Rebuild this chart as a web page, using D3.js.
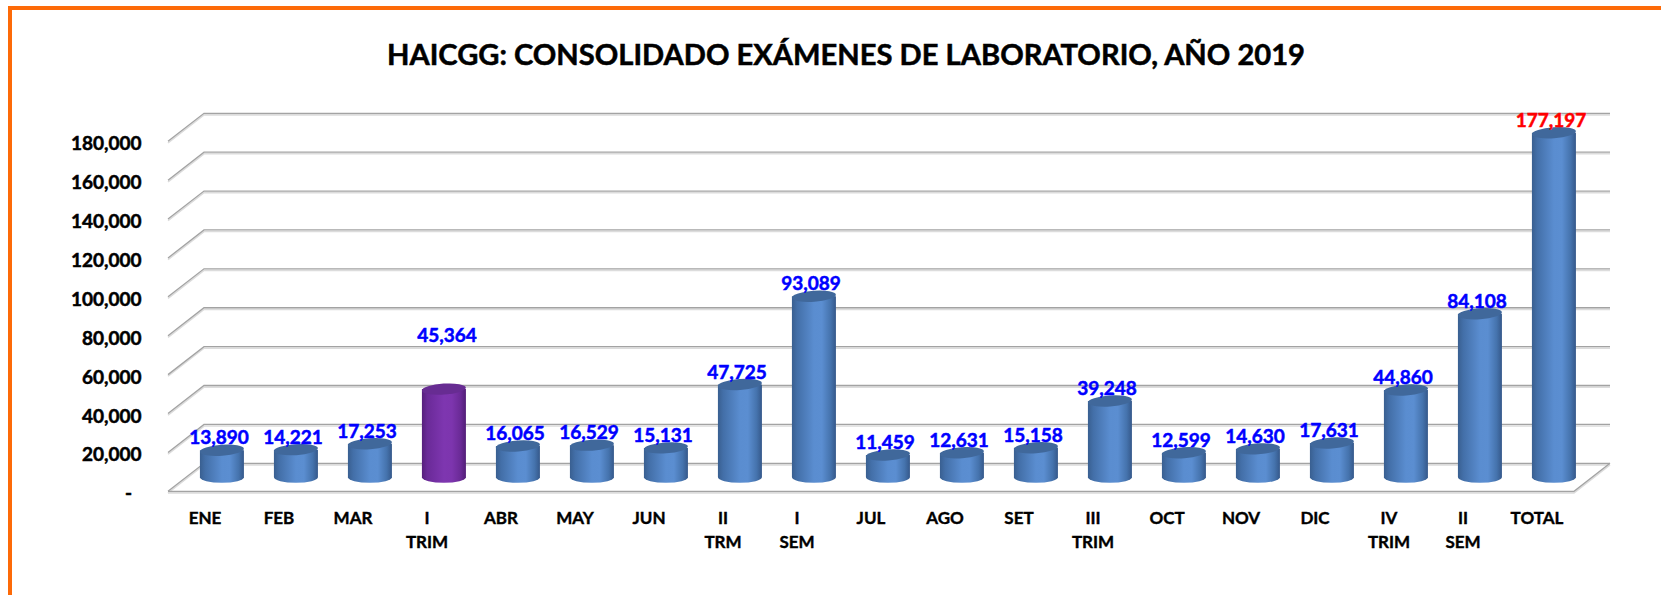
<!DOCTYPE html>
<html>
	<head>
		<meta charset='utf-8'>
		<title>Consolidado examenes</title>
		<style>
			body,html
			{
				margin:0px;
				background:#ffffff;
			}
			svg text
			{
				font-family:Lato, 'Open Sans', sans-serif;
				font-weight:bold;
			}
		</style>
		<script src='https://cdn.jsdelivr.net/npm/d3@7/dist/d3.min.js'></script>
	</head>
	<body>
	<svg id='chart' width='1661' height='595'></svg>
	<script>

		// data
		var titleText = "HAICGG: CONSOLIDADO EXÁMENES DE LABORATORIO, AÑO 2019";
		var categories = ["ENE","FEB","MAR","I TRIM","ABR","MAY","JUN","II TRM","I SEM","JUL","AGO","SET","III TRIM","OCT","NOV","DIC","IV TRIM","II SEM","TOTAL"];
		var values = [13890,14221,17253,45364,16065,16529,15131,47725,93089,11459,12631,15158,39248,12599,14630,17631,44860,84108,177197];
		var yTicks = [0,20000,40000,60000,80000,100000,120000,140000,160000,180000];

		var svg = d3.select('#chart');

		// 3d box: back wall + depth offset towards the viewer
		var depthX = 36, depthY = 28;
		var backLeft = 204, backRight = 1610;

		var y = d3.scaleLinear().domain([0,180000]).range([463.3,113.3]);
		var x = d3.scaleBand().domain(categories).range([backLeft - depthX, backRight - depthX]);

		var fmt = d3.format(",");

		// gradients for the cylinders
		var defs = svg.append('defs');
		function cylGradient(id, stops)
		{
			var g = defs.append('linearGradient').attr('id', id)
				.attr('x1','0%').attr('x2','100%').attr('y1','0%').attr('y2','0%');
			stops.forEach(function(s){
				g.append('stop').attr('offset', s[0]).attr('stop-color', s[1]);
			});
		}
		cylGradient('blueBody', [['0%','#395f90'],['12%','#436fa8'],['50%','#5a8dd0'],['68%','#5b8ed1'],['88%','#4573ad'],['100%','#35588a']]);
		cylGradient('purpleBody', [['0%','#561f7c'],['12%','#6a2a98'],['50%','#7e36b0'],['68%','#7d35ae'],['88%','#6a2a96'],['100%','#521e77']]);

		// orange frame
		svg.append('rect')
			.attr('x',10).attr('y',8)
			.attr('width',1700).attr('height',700)
			.attr('fill','none')
			.attr('stroke','#fd6a08')
			.attr('stroke-width',4);

		// title, squeezed a little to get the narrow look of the original
		svg.append('text')
			.attr('x',846).attr('y',54)
			.attr('text-anchor','middle')
			.attr('dominant-baseline','central')
			.style('font-size','28px')
			.attr('textLength',918)
			.attr('lengthAdjust','spacingAndGlyphs')
			.attr('fill','#000')
			.attr('stroke','#000').attr('stroke-width',0.5)
			.text(titleText);

		// gridlines on the back wall with the side wall diagonal
		function wallPath(v)
		{
			var yy = y(v);
			return 'M' + (backLeft - depthX) + ',' + (yy + depthY) + 'L' + backLeft + ',' + yy + 'L' + backRight + ',' + yy;
		}
		var grid = svg.append('g');
		grid.selectAll('path.shadow').data(yTicks).enter()
			.append('path').attr('class','shadow')
			.attr('d', wallPath)
			.attr('transform','translate(0,1.6)')
			.attr('fill','none').attr('stroke','#dcdcdc').attr('stroke-width',1.6);
		grid.selectAll('path.line').data(yTicks).enter()
			.append('path').attr('class','line')
			.attr('d', wallPath)
			.attr('fill','none').attr('stroke','#a3a3a3').attr('stroke-width',1.3);

		// floor front and right edges
		var floorPath = 'M' + (backLeft - depthX) + ',' + (y(0) + depthY) +
			'L' + (backRight - depthX) + ',' + (y(0) + depthY) +
			'L' + backRight + ',' + y(0);
		svg.append('path').attr('d', floorPath).attr('transform','translate(0,1.6)')
			.attr('fill','none').attr('stroke','#dcdcdc').attr('stroke-width',1.6);
		svg.append('path').attr('d', floorPath)
			.attr('fill','none').attr('stroke','#a3a3a3').attr('stroke-width',1.3);

		// cylinders, standing in the middle of the depth
		var rx = 22, ry = 5.5;
		var midX = depthX * 0.47, midY = depthY / 2;
		function cx(d){ return x(d.cat) + x.bandwidth() / 2 + midX; }
		function topY(d){ return y(d.val) + midY; }
		var baseY = y(0) + midY;

		var rows = categories.map(function(c, i){ return {cat:c, val:values[i], i:i}; });

		var bars = svg.append('g').selectAll('g').data(rows).enter().append('g');

		bars.append('path')
			.attr('d', function(d){
				var c = cx(d), t = topY(d);
				return 'M' + (c - rx) + ',' + t +
					'L' + (c - rx) + ',' + baseY +
					'A' + rx + ',' + ry + ' 0 0 0 ' + (c + rx) + ',' + baseY +
					'L' + (c + rx) + ',' + t + 'Z';
			})
			.attr('fill', function(d){ return d.cat == 'I TRIM' ? 'url(#purpleBody)' : 'url(#blueBody)'; });

		bars.append('ellipse')
			.attr('cx', cx).attr('cy', topY)
			.attr('rx', rx).attr('ry', ry)
			.attr('transform', function(d){ return 'rotate(-4,' + cx(d) + ',' + topY(d) + ')'; })
			.attr('fill', function(d){ return d.cat == 'I TRIM' ? '#672c92' : '#40689b'; });

		// value labels
		svg.append('g').selectAll('text').data(rows).enter()
			.append('text')
			.attr('x', function(d){ return cx(d) - 3 + (d.cat == 'I TRIM' ? 6 : 0); })
			.attr('y', function(d){ return topY(d) - 6 - (d.cat == 'I TRIM' ? 41 : 0); })
			.attr('text-anchor','middle')
			.style('font-size','19px')
			.attr('fill', function(d){ return d.cat == 'TOTAL' ? '#ff0000' : '#0000ff'; })
			.attr('stroke', function(d){ return d.cat == 'TOTAL' ? '#ff0000' : '#0000ff'; })
			.attr('stroke-width',0.5)
			.text(function(d){ return fmt(d.val); });

		// y axis labels, at the front edge of each gridline
		svg.append('g').selectAll('text').data(yTicks).enter()
			.append('text')
			.attr('x', function(d){ return d == 0 ? 132 : 141.5; })
			.attr('y', function(d){ return y(d) + depthY + 1.5; })
			.attr('text-anchor','end')
			.attr('dominant-baseline','central')
			.style('font-size','19px')
			.attr('fill','#000')
			.attr('stroke','#000').attr('stroke-width',0.5)
			.text(function(d){ return d == 0 ? '-' : fmt(d); });

		// category labels, one or two lines
		var xl = svg.append('g').selectAll('text').data(categories).enter()
			.append('text')
			.attr('x', function(d){ return x(d) + x.bandwidth() / 2; })
			.attr('y', 524)
			.attr('text-anchor','middle')
			.style('font-size','17px')
			.attr('fill','#000')
			.attr('stroke','#000').attr('stroke-width',0.4);
		xl.each(function(d){
			var parts = d.split(' ');
			var t = d3.select(this);
			parts.forEach(function(p, k){
				t.append('tspan')
					.attr('x', x(d) + x.bandwidth() / 2)
					.attr('dy', k == 0 ? 0 : 23.5)
					.text(p);
			});
		});

	</script>
	</body>
</html>
